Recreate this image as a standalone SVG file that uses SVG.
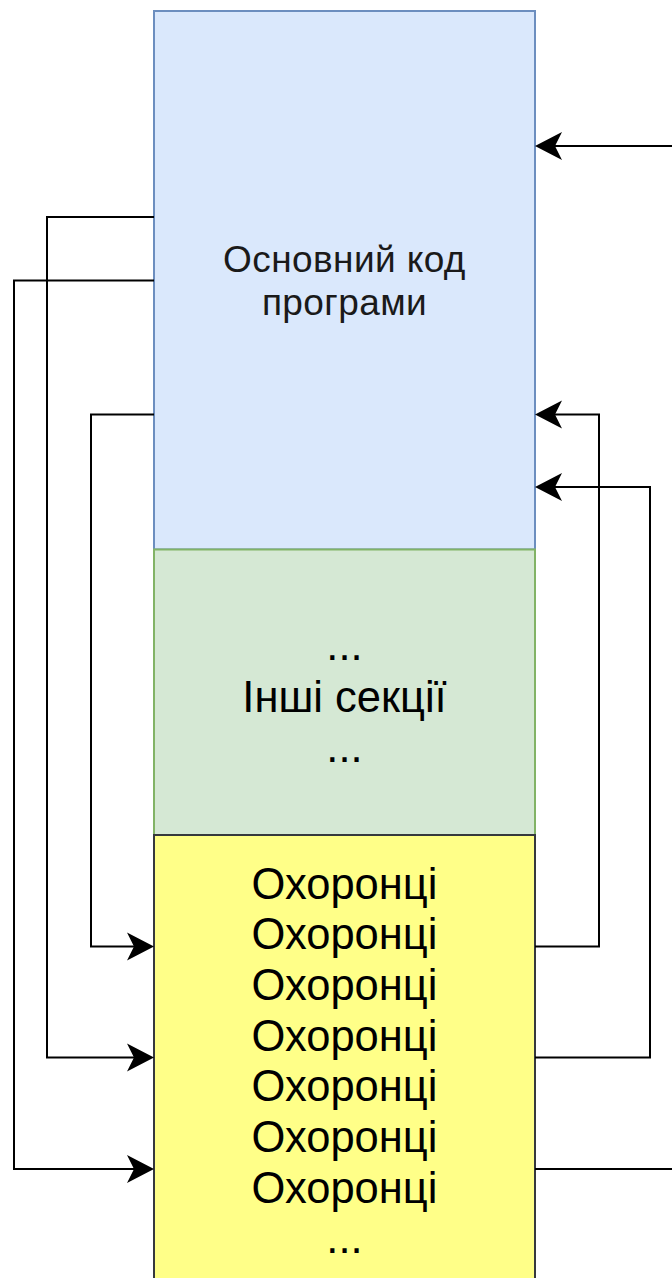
<svg xmlns="http://www.w3.org/2000/svg" width="672" height="1278" viewBox="0 0 672 1278">
<style>
.t{font-family:"Liberation Sans",Arial,sans-serif;text-anchor:middle;fill:#000}
.b{font-size:37px;letter-spacing:0.4px;fill:#1a1a1a}
.g{font-size:43.5px}
.c{fill:none;stroke:#000;stroke-width:2;marker-end:url(#arr)}
.c0{fill:none;stroke:#000;stroke-width:2}
</style>
<defs>
<marker id="arr" markerUnits="userSpaceOnUse" markerWidth="30" markerHeight="30" viewBox="0 -15 30 30" refX="20" refY="0" orient="auto">
<path d="M27,0 L0,-14 L7,0 L0,14 Z" fill="#000"/>
</marker>
</defs>
<rect width="672" height="1278" fill="#fff"/>
<g id="main-code">
<rect x="154" y="11" width="381" height="538.5" fill="#dae8fc" stroke="#6c8ebf" stroke-width="2"/>
<text class="t b" x="344.5" y="272">Основний код</text>
<text class="t b" x="344.5" y="315">програми</text>
</g>
<g id="other-sections">
<rect x="154" y="549.5" width="381" height="285.5" fill="#d5e8d4" stroke="#82b366" stroke-width="2"/>
<text class="t g" x="344.5" y="660">...</text>
<text class="t g" x="344.5" y="711.5">Інші секції</text>
<text class="t g" x="344.5" y="761.5">...</text>
</g>
<g id="guards">
<rect x="154" y="835" width="381" height="460" fill="#ffff88" stroke="#36393d" stroke-width="2"/>
<text class="t g" x="344.5" y="898.5">Охоронці</text>
<text class="t g" x="344.5" y="949.2">Охоронці</text>
<text class="t g" x="344.5" y="999.9">Охоронці</text>
<text class="t g" x="344.5" y="1050.6">Охоронці</text>
<text class="t g" x="344.5" y="1101.3">Охоронці</text>
<text class="t g" x="344.5" y="1152">Охоронці</text>
<text class="t g" x="344.5" y="1202.7">Охоронці</text>
<text class="t g" x="344.5" y="1253.4">...</text>
</g>
<g id="connectors">
<path class="c" d="M672,146 L542,146"/>
<path class="c" d="M154,217 L47,217 L47,1057.5 L147,1057.5"/>
<path class="c" d="M154,280.5 L14,280.5 L14,1169 L147,1169"/>
<path class="c" d="M154,414.5 L91,414.5 L91,946.5 L147,946.5"/>
<path class="c" d="M535,946.5 L599,946.5 L599,414.5 L542,414.5"/>
<path class="c" d="M535,1057.5 L650,1057.5 L650,487 L542,487"/>
<path class="c0" d="M535,1169 L672,1169"/>
</g>
</svg>
